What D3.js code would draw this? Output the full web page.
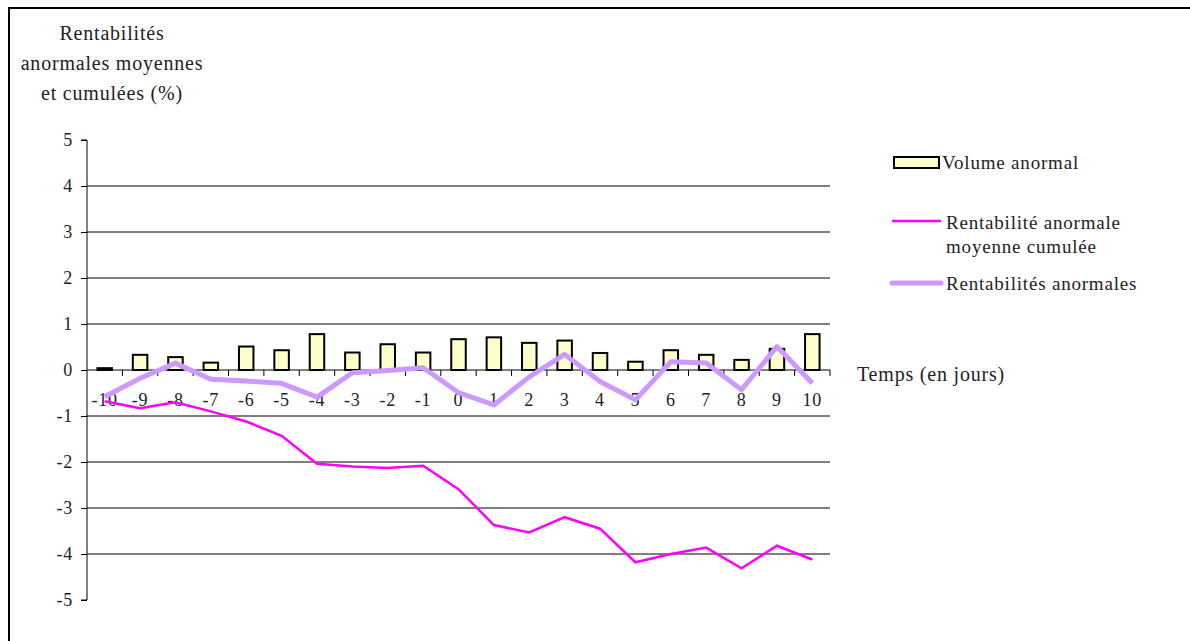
<!DOCTYPE html>
<html>
<head>
<meta charset="utf-8">
<script src="https://cdn.jsdelivr.net/npm/d3@7"></script>
<style>
  body { margin: 0; background: #fff; }
  svg text { font-family: "Liberation Serif", "DejaVu Serif", serif; fill: #222; letter-spacing: 0.8px; }
</style>
</head>
<body>
<script>
// chart size
var width = 1190,
    height = 641;

// days around the event
var days = ['-10','-9','-8','-7','-6','-5','-4','-3','-2','-1','0','1','2','3','4','5','6','7','8','9','10'];

// abnormal volume (bars)
var volume = [0.04, 0.33, 0.28, 0.16, 0.51, 0.43, 0.78, 0.38, 0.56, 0.38, 0.67,
              0.71, 0.59, 0.64, 0.37, 0.18, 0.43, 0.33, 0.22, 0.46, 0.78];

// cumulative mean abnormal return (magenta)
var carCumul = [-0.68, -0.83, -0.70, -0.90, -1.12, -1.43, -2.04, -2.10, -2.13, -2.08, -2.59,
                -3.37, -3.53, -3.20, -3.45, -4.18, -4.00, -3.86, -4.31, -3.82, -4.12];

// abnormal returns (lilac)
var arMoy = [-0.58, -0.18, 0.15, -0.20, -0.24, -0.29, -0.59, -0.06, -0.01, 0.05, -0.49,
             -0.76, -0.15, 0.34, -0.25, -0.65, 0.18, 0.15, -0.43, 0.51, -0.29];

var yTicks = [5, 4, 3, 2, 1, 0, -1, -2, -3, -4, -5];

var svg = d3.select('body').append('svg')
    .attr('width', width)
    .attr('height', height)
    .attr('font-family', '"Liberation Serif", serif');

// outer frame (top + left visible)
svg.append('path')
    .attr('d', 'M9,' + height + 'V8H' + width)
    .attr('fill', 'none')
    .attr('stroke', '#000')
    .attr('stroke-width', 2);

var x = d3.scaleBand()
    .domain(days)
    .range([87, 830]);

var y = d3.scaleLinear()
    .domain([-5, 5])
    .range([600, 140]);

// gridlines
svg.append('g')
    .selectAll('line')
    .data(yTicks.filter(function(d) { return d !== 5 && d !== -5 && d !== 0; }))
    .enter().append('line')
    .attr('x1', 87).attr('x2', 830)
    .attr('y1', function(d) { return y(d); })
    .attr('y2', function(d) { return y(d); })
    .attr('stroke', '#000')
    .attr('stroke-width', 1);

// y axis
var yAxis = svg.append('g')
    .attr('transform', 'translate(87,0)')
    .call(d3.axisLeft(y).tickValues(yTicks).tickSize(6).tickPadding(8)
        .tickFormat(function(d) { return d; }));
yAxis.attr('font-family', null).attr('font-size', null);
yAxis.select('.domain').attr('stroke', '#000').attr('d', 'M-6,' + y(5) + 'H0V' + y(-5) + 'H-6');
yAxis.selectAll('.tick line').attr('stroke', '#000');
yAxis.selectAll('text')
    .style('font-size', '18px')
    .attr('fill', '#222');

// bars
var bw = 14.5;
svg.append('g')
    .selectAll('rect')
    .data(volume)
    .enter().append('rect')
    .attr('x', function(d, i) { return x(days[i]) + x.bandwidth() / 2 - bw / 2; })
    .attr('y', function(d) { return y(d); })
    .attr('width', bw)
    .attr('height', function(d) { return y(0) - y(d); })
    .attr('fill', '#ffffcc')
    .attr('stroke', '#000')
    .attr('stroke-width', 2);

// x axis at zero, ticks at category boundaries
var xg = svg.append('g').attr('transform', 'translate(0,' + y(0) + ')');
xg.append('line')
    .attr('x1', 87).attr('x2', 830)
    .attr('stroke', '#000');
xg.selectAll('line.tk')
    .data(days)
    .enter().append('line')
    .attr('class', 'tk')
    .attr('x1', function(d) { return x(d) + x.bandwidth(); })
    .attr('x2', function(d) { return x(d) + x.bandwidth(); })
    .attr('y1', 0).attr('y2', 6)
    .attr('stroke', '#000');
xg.selectAll('text')
    .data(days)
    .enter().append('text')
    .attr('x', function(d) { return x(d) + x.bandwidth() / 2; })
    .attr('y', 36)
    .attr('text-anchor', 'middle')
    .style('font-size', '18px')
    .text(function(d) { return d; });

var line = d3.line()
    .x(function(d, i) { return x(days[i]) + x.bandwidth() / 2; })
    .y(function(d) { return y(d); });

// cumulative line
svg.append('path')
    .datum(carCumul)
    .attr('d', line)
    .attr('fill', 'none')
    .attr('stroke', '#ff00ff')
    .attr('stroke-width', 2.5);

// abnormal returns line
svg.append('path')
    .datum(arMoy)
    .attr('d', line)
    .attr('fill', 'none')
    .attr('stroke', '#cc99ff')
    .attr('stroke-width', 5)
    .attr('stroke-linejoin', 'round');

// y axis title
var yTitle = ['Rentabilités', 'anormales moyennes', 'et cumulées (%)'];
svg.append('text')
    .attr('text-anchor', 'middle')
    .style('font-size', '20px')
    .selectAll('tspan')
    .data(yTitle)
    .enter().append('tspan')
    .attr('x', 112)
    .attr('y', function(d, i) { return 40 + i * 30; })
    .text(function(d) { return d; });

// x axis title
svg.append('text')
    .attr('x', 857)
    .attr('y', 381)
    .style('font-size', '20px')
    .text('Temps (en jours)');

// legend
var leg = svg.append('g');
leg.append('rect')
    .attr('x', 894).attr('y', 157)
    .attr('width', 45).attr('height', 11)
    .attr('fill', '#ffffcc')
    .attr('stroke', '#000')
    .attr('stroke-width', 2);
leg.append('text')
    .attr('x', 942).attr('y', 169)
    .style('font-size', '19px')
    .text('Volume anormal');

leg.append('line')
    .attr('x1', 892).attr('x2', 941)
    .attr('y1', 221).attr('y2', 221)
    .attr('stroke', '#ff00ff')
    .attr('stroke-width', 2.5);
leg.append('text')
    .attr('x', 946).attr('y', 229)
    .style('font-size', '19px')
    .selectAll('tspan')
    .data(['Rentabilité anormale', 'moyenne cumulée'])
    .enter().append('tspan')
    .attr('x', 946)
    .attr('dy', function(d, i) { return i ? 24 : 0; })
    .text(function(d) { return d; });

leg.append('line')
    .attr('x1', 892).attr('x2', 941)
    .attr('y1', 283).attr('y2', 283)
    .attr('stroke', '#cc99ff')
    .attr('stroke-width', 5)
    .attr('stroke-linecap', 'round');
leg.append('text')
    .attr('x', 946).attr('y', 290)
    .style('font-size', '19px')
    .text('Rentabilités anormales');
</script>
</body>
</html>
